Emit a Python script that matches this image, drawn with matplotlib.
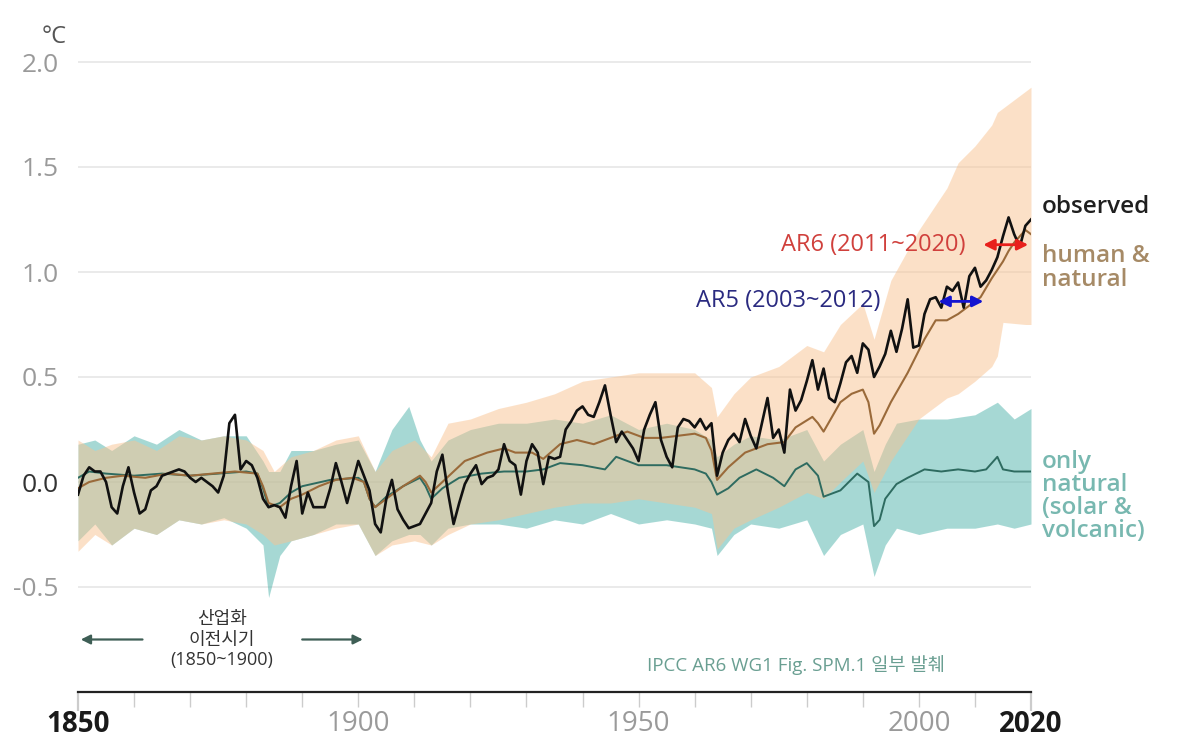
import numpy as np
import matplotlib.pyplot as plt

plt.rcParams['font.family'] = ['Open Sans', 'Noto Sans CJK KR', 'DejaVu Sans']

# ---- observed global surface temperature change (°C, vs 1850-1900) ----
obs_years = np.arange(1850, 2021)
obs_vals = [
    -0.06, 0.03, 0.07, 0.05, 0.05, 0.00, -0.12, -0.15, -0.02, 0.07,   # 1850s
    -0.05, -0.15, -0.13, -0.04, -0.02, 0.03, 0.04, 0.05, 0.06, 0.05,  # 1860s
    0.02, 0.00, 0.02, 0.00, -0.02, -0.05, 0.03, 0.28, 0.32, 0.06,     # 1870s
    0.10, 0.08, 0.02, -0.08, -0.12, -0.11, -0.12, -0.17, -0.02, 0.10, # 1880s
    -0.15, -0.05, -0.12, -0.12, -0.12, -0.03, 0.09, 0.00, -0.10, 0.00,# 1890s
    0.10, 0.03, -0.04, -0.20, -0.24, -0.08, 0.01, -0.13, -0.18, -0.22,# 1900s
    -0.21, -0.20, -0.15, -0.10, 0.05, 0.13, -0.05, -0.20, -0.10, -0.01,# 1910s
    0.04, 0.08, -0.01, 0.02, 0.03, 0.06, 0.18, 0.10, 0.08, -0.06,     # 1920s
    0.10, 0.18, 0.14, -0.01, 0.12, 0.11, 0.12, 0.25, 0.29, 0.34,      # 1930s
    0.36, 0.32, 0.31, 0.38, 0.46, 0.32, 0.19, 0.24, 0.20, 0.16,       # 1940s
    0.10, 0.25, 0.32, 0.38, 0.20, 0.12, 0.07, 0.26, 0.30, 0.29,       # 1950s
    0.26, 0.30, 0.25, 0.28, 0.03, 0.14, 0.20, 0.23, 0.19, 0.30,       # 1960s
    0.22, 0.16, 0.28, 0.40, 0.21, 0.25, 0.14, 0.44, 0.34, 0.39,       # 1970s
    0.48, 0.58, 0.44, 0.54, 0.40, 0.38, 0.47, 0.57, 0.60, 0.52,       # 1980s
    0.66, 0.63, 0.50, 0.55, 0.61, 0.72, 0.62, 0.73, 0.87, 0.64,       # 1990s
    0.65, 0.80, 0.87, 0.88, 0.83, 0.93, 0.91, 0.95, 0.83, 0.98,       # 2000s
    1.02, 0.93, 0.96, 1.01, 1.07, 1.17, 1.26, 1.18, 1.12, 1.22,       # 2010s
    1.25,
]

# ---- simulated: human & natural ----
hn_years = [1850, 1852, 1855, 1858, 1862, 1866, 1870, 1874, 1878, 1882, 1883, 1884,
            1886, 1888, 1890, 1893, 1896, 1899, 1901, 1902, 1903, 1905, 1908, 1911,
            1912, 1913, 1915, 1917, 1919, 1921, 1923, 1926, 1928, 1931, 1933, 1936,
            1939, 1942, 1945, 1948, 1951, 1954, 1957, 1960, 1962, 1963, 1964, 1966,
            1969, 1973, 1976, 1978, 1981, 1982, 1983, 1986, 1988, 1990, 1991, 1992,
            1993, 1995, 1998, 2001, 2003, 2005, 2007, 2009, 2011, 2013, 2015, 2016,
            2017, 2019, 2020]
hn_mid = [-0.03, 0.00, 0.02, 0.03, 0.02, 0.04, 0.03, 0.04, 0.05, 0.04, -0.02, -0.10,
          -0.12, -0.08, -0.06, -0.02, 0.01, 0.02, 0.00, -0.08, -0.12, -0.08, -0.02, 0.03,
          0.00, -0.05, 0.00, 0.05, 0.10, 0.12, 0.14, 0.16, 0.14, 0.14, 0.11, 0.18,
          0.20, 0.18, 0.21, 0.24, 0.21, 0.21, 0.22, 0.23, 0.21, 0.15, 0.01, 0.07,
          0.14, 0.18, 0.19, 0.26, 0.31, 0.28, 0.24, 0.38, 0.42, 0.44, 0.38, 0.23,
          0.27, 0.38, 0.52, 0.68, 0.77, 0.77, 0.80, 0.84, 0.88, 0.97, 1.05, 1.10,
          1.14, 1.20, 1.18]

hn_band_years = [1850, 1853, 1856, 1860, 1864, 1868, 1872, 1876, 1880, 1883, 1885, 1888,
                 1892, 1896, 1900, 1903, 1906, 1910, 1913, 1916, 1920, 1925, 1930, 1935,
                 1940, 1945, 1950, 1955, 1960, 1963, 1964, 1967, 1970, 1975, 1980, 1983,
                 1986, 1990, 1992, 1995, 2000, 2005, 2007, 2010, 2013, 2014, 2015, 2019,
                 2020]
hn_low = [-0.33, -0.25, -0.30, -0.22, -0.25, -0.18, -0.20, -0.18, -0.20, -0.25, -0.30, -0.28,
          -0.25, -0.22, -0.20, -0.35, -0.30, -0.28, -0.30, -0.25, -0.20, -0.18, -0.15, -0.12,
          -0.10, -0.10, -0.08, -0.10, -0.12, -0.15, -0.32, -0.22, -0.18, -0.12, -0.05, -0.08,
          0.00, 0.10, -0.05, 0.10, 0.30, 0.40, 0.42, 0.48, 0.55, 0.60, 0.76, 0.75,
          0.75]
hn_high = [0.20, 0.15, 0.18, 0.20, 0.15, 0.22, 0.20, 0.22, 0.20, 0.15, 0.05, 0.12,
           0.15, 0.20, 0.22, 0.05, 0.15, 0.20, 0.12, 0.28, 0.30, 0.35, 0.38, 0.42,
           0.48, 0.50, 0.52, 0.52, 0.52, 0.45, 0.31, 0.42, 0.50, 0.55, 0.65, 0.62,
           0.75, 0.85, 0.68, 0.96, 1.20, 1.40, 1.52, 1.60, 1.70, 1.76, 1.78, 1.86,
           1.88]

# ---- simulated: only natural (solar & volcanic) ----
nat_years = [1850, 1852, 1855, 1860, 1865, 1870, 1875, 1880, 1882, 1883, 1884, 1886,
             1888, 1890, 1895, 1900, 1901, 1902, 1903, 1905, 1908, 1911, 1912, 1913,
             1915, 1918, 1922, 1926, 1930, 1933, 1936, 1940, 1944, 1946, 1950, 1955,
             1960, 1962, 1963, 1964, 1966, 1968, 1971, 1974, 1976, 1978, 1980, 1982,
             1983, 1986, 1989, 1991, 1992, 1993, 1994, 1996, 1998, 2001, 2004, 2007,
             2010, 2012, 2014, 2015, 2017, 2020]
nat_mid = [0.02, 0.05, 0.04, 0.03, 0.04, 0.03, 0.04, 0.05, 0.04, -0.03, -0.12, -0.10,
           -0.05, -0.02, 0.01, 0.02, 0.00, -0.08, -0.12, -0.07, -0.02, 0.02, -0.02, -0.08,
           -0.03, 0.02, 0.04, 0.05, 0.05, 0.06, 0.09, 0.08, 0.06, 0.12, 0.08, 0.08,
           0.06, 0.04, 0.00, -0.06, -0.03, 0.02, 0.06, 0.02, -0.02, 0.06, 0.09, 0.03,
           -0.07, -0.04, 0.04, 0.00, -0.21, -0.18, -0.08, -0.01, 0.02, 0.06, 0.05, 0.06,
           0.05, 0.06, 0.12, 0.06, 0.05, 0.05]

nat_band_years = [1850, 1853, 1856, 1860, 1864, 1868, 1872, 1876, 1880, 1883, 1884, 1886,
                  1888, 1892, 1896, 1900, 1903, 1906, 1909, 1911, 1913, 1916, 1920, 1925,
                  1930, 1935, 1940, 1945, 1950, 1955, 1960, 1963, 1964, 1967, 1970, 1975,
                  1980, 1983, 1986, 1990, 1992, 1994, 1996, 2000, 2005, 2010, 2014, 2017,
                  2020]
nat_low = [-0.28, -0.20, -0.30, -0.22, -0.25, -0.18, -0.20, -0.17, -0.22, -0.30, -0.55, -0.35,
           -0.28, -0.25, -0.20, -0.20, -0.35, -0.28, -0.25, -0.25, -0.30, -0.22, -0.20, -0.20,
           -0.22, -0.18, -0.20, -0.15, -0.20, -0.18, -0.20, -0.22, -0.35, -0.25, -0.20, -0.22,
           -0.18, -0.35, -0.25, -0.20, -0.45, -0.30, -0.22, -0.25, -0.22, -0.22, -0.20, -0.22,
           -0.20]
nat_high = [0.18, 0.20, 0.15, 0.22, 0.18, 0.25, 0.20, 0.22, 0.22, 0.10, 0.05, 0.05,
            0.15, 0.15, 0.18, 0.20, 0.05, 0.25, 0.36, 0.20, 0.10, 0.20, 0.25, 0.28,
            0.28, 0.30, 0.28, 0.32, 0.25, 0.28, 0.25, 0.20, 0.12, 0.18, 0.22, 0.20,
            0.25, 0.10, 0.18, 0.25, 0.05, 0.18, 0.28, 0.30, 0.30, 0.32, 0.38, 0.30,
            0.35]

# assessment periods: (label, start, end, level)
ar6 = ('AR6 (2011~2020)', 2011, 2020, 1.13)
ar5 = ('AR5 (2003~2012)', 2003, 2012, 0.86)

yticks = [-0.5, 0.0, 0.5, 1.0, 1.5, 2.0]
ytick_labels = ['-0.5', '0.0', '0.5', '1.0', '1.5', '2.0']
xticks = list(range(1850, 2021, 10))
xtick_labels = {1850: '1850', 1900: '1900', 1950: '1950', 2000: '2000', 2020: '2020'}

PEACH = '#f9c391'
TEAL = '#4fb3ab'
BROWN = '#9a6a3a'
DKTEAL = '#2e6b60'
GRAY = '#9a9a9a'

fig = plt.figure(figsize=(11.84, 7.39), dpi=100)
ax = fig.add_axes([78 / 1184, 1 - 692 / 739, (1031 - 78) / 1184, (692 - 40) / 739])
ax.set_xlim(1850, 2020)
ax.set_ylim(-1.0, (482 - 40) / 210)

# uncertainty ranges
ax.fill_between(nat_band_years, nat_low, nat_high, color=TEAL, alpha=0.5, lw=0, zorder=1)
ax.fill_between(hn_band_years, hn_low, hn_high, color=PEACH, alpha=0.5, lw=0, zorder=2)

# lines
ax.plot(nat_years, nat_mid, color=DKTEAL, lw=1.4, zorder=3)
ax.plot(hn_years, hn_mid, color=BROWN, lw=1.5, zorder=4)
ax.plot(obs_years, obs_vals, color='#111111', lw=1.9, zorder=5)

# gridlines
for v in yticks:
    ax.axhline(v, color='#e6e6e6', lw=1.2, zorder=0)

# axes styling
for s in ['left', 'right', 'top']:
    ax.spines[s].set_visible(False)
ax.spines['bottom'].set_color('#222222')
ax.spines['bottom'].set_linewidth(1.6)

ax.set_yticks(yticks)
ax.set_yticklabels(ytick_labels, fontsize=19, color=GRAY)
ax.tick_params(axis='y', length=0, pad=14)
for lab in ax.get_yticklabels():
    if lab.get_text() == '0.0':
        lab.set_color('#333333')

ax.set_xticks(xticks)
ax.set_xticklabels([xtick_labels.get(x, '') for x in xticks], fontsize=20, color=GRAY)
ax.tick_params(axis='x', direction='out', length=11, width=1.0, color='#cccccc', pad=2)
for tick, x in zip(ax.xaxis.get_major_ticks(), xticks):
    if x in (1850, 2020):
        tick.tick1line.set_color('#222222')
        tick.tick1line.set_markeredgewidth(1.6)
        tick.tick1line.set_markersize(14)
        tick.label1.set_color('#1a1a1a')
        tick.label1.set_fontweight('bold')

ax.text(1843.6, 2.12, '°C', fontsize=17, color='#555555', ha='left', va='center', clip_on=False)

# assessment period arrows: (period, arrow colour, text colour, gap to text in years)
for (label, x0, x1, lev), col, tcol, gap in [(ar6, '#e8201c', '#d0403c', 2.6),
                                            (ar5, '#1414d0', '#2a2a80', 9.8)]:
    ax.annotate('', xy=(x0, lev), xytext=(x1, lev),
                arrowprops=dict(arrowstyle='<|-|>', color=col, lw=2.0, mutation_scale=16),
                zorder=6)
    ax.text(x0 - gap, lev, label, fontsize=17, color=tcol, ha='right', va='center')

# series labels
ax.text(2021.9, 1.31, 'observed', fontsize=17.5, color='#1f1f1f', fontweight='semibold',
        ha='left', va='center', clip_on=False)
ax.text(2021.9, 1.02, 'human &\nnatural', fontsize=17.5, color='#a68a66', fontweight='semibold',
        ha='left', va='center', linespacing=0.98, clip_on=False)
ax.text(2021.9, -0.07, 'only\nnatural\n(solar &\nvolcanic)', fontsize=17.5, color='#78b8b0',
        fontweight='semibold', ha='left', va='center', linespacing=0.95, clip_on=False)

# pre-industrial reference period
ax.annotate('', xy=(1850, -0.75), xytext=(1862, -0.75),
            arrowprops=dict(arrowstyle='-|>', color='#3e5e55', lw=1.6, mutation_scale=14))
ax.annotate('', xy=(1901.3, -0.75), xytext=(1889.5, -0.75),
            arrowprops=dict(arrowstyle='-|>', color='#3e5e55', lw=1.6, mutation_scale=14))
ax.text(1875.7, -0.75, '산업화\n이전시기\n(1850~1900)', fontsize=13, color='#333333',
        ha='center', va='center', linespacing=1.2)

ax.text(1978, -0.87, 'IPCC AR6 WG1 Fig. SPM.1 일부 발췌', fontsize=13.5, color='#6a9f92',
        ha='center', va='center')

fig.savefig('out.png', dpi=100)
